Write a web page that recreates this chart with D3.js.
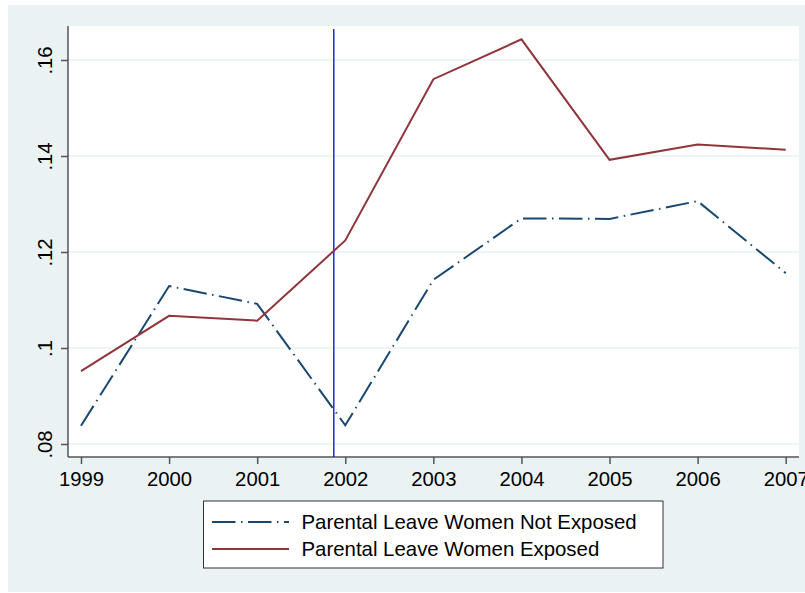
<!DOCTYPE html>
<html>
<head>
<meta charset="utf-8">
<script src="https://cdn.jsdelivr.net/npm/d3@7"></script>
<style>
  body { margin: 0; background: #fff; }
  text { font-family: "Liberation Sans", Arial, Helvetica, sans-serif; }
</style>
</head>
<body>
<div id="chart"></div>
<script>
// data
const years = [1999, 2000, 2001, 2002, 2003, 2004, 2005, 2006, 2007];
const notExposed = [0.0838, 0.1129, 0.1092, 0.0839, 0.1142, 0.1270, 0.1269, 0.1306, 0.1156];
const exposed = [0.0952, 0.1067, 0.1057, 0.1224, 0.1560, 0.1643, 0.1392, 0.1424, 0.1413];
const yTicks = [0.08, 0.10, 0.12, 0.14, 0.16];
const yTickLabels = [".08", ".1", ".12", ".14", ".16"];
const seriesNames = ["Parental Leave Women Not Exposed", "Parental Leave Women Exposed"];
const reformYear = 2001.87;

const navy = "#1a476f", maroon = "#90353b";
const dashDot = "23.5,5.5,1.5,5.5";

let svgWidth = 805, svgHeight = 593;
let plot = {left: 68, right: 799, top: 26, bottom: 457};

let svg = d3.select("#chart").append("svg")
    .attr("width", svgWidth)
    .attr("height", svgHeight);

// outer stata-ish background
svg.append("rect")
    .attr("x", 8).attr("y", 5)
    .attr("width", svgWidth - 8).attr("height", 587)
    .attr("fill", "#eaf2f3");

svg.append("rect")
    .attr("x", plot.left).attr("y", plot.top)
    .attr("width", plot.right - plot.left).attr("height", plot.bottom - plot.top)
    .attr("fill", "#fff");

let x = d3.scaleLinear().domain([1999, 2007]).range([81, 785.7]);
let y = d3.scaleLinear().domain([0.08, 0.16]).range([444, 60]);

// gridlines
svg.append("g")
    .selectAll("line")
    .data(yTicks)
    .enter()
    .append("line")
    .attr("x1", plot.left).attr("x2", plot.right)
    .attr("y1", d => y(d)).attr("y2", d => y(d))
    .attr("stroke", "#eaf2f3")
    .attr("stroke-width", 1.5);

// y axis
let yAxis = d3.axisLeft(y)
    .tickValues(yTicks)
    .tickFormat((d, i) => yTickLabels[i])
    .tickSize(7)
    .tickPadding(9);

svg.append("g")
    .attr("transform", "translate(" + plot.left + ",0)")
    .call(yAxis)
    .call(g => g.select(".domain").attr("d", "M0," + plot.top + "V" + plot.bottom))
    .call(g => g.selectAll("line, .domain").attr("stroke", "#555").attr("stroke-width", 1.5))
    .call(g => g.selectAll("text")
        .attr("font-size", 20.3)
        .attr("fill", "#000")
        .attr("text-anchor", "middle")
        .attr("dy", 0)
        .attr("x", 0)
        .attr("transform", "translate(-16,0) rotate(-90)"));

// x axis
let xAxis = d3.axisBottom(x)
    .tickValues(years)
    .tickFormat(d3.format("d"))
    .tickSize(7)
    .tickPadding(8);

svg.append("g")
    .attr("transform", "translate(0," + plot.bottom + ")")
    .call(xAxis)
    .call(g => g.select(".domain").attr("d", "M" + plot.left + ",0H" + plot.right))
    .call(g => g.selectAll("line, .domain").attr("stroke", "#555").attr("stroke-width", 1.5))
    .call(g => g.selectAll("text").attr("font-size", 20.3).attr("fill", "#000"));

// reform line
svg.append("line")
    .attr("x1", x(reformYear)).attr("x2", x(reformYear))
    .attr("y1", 29).attr("y2", plot.bottom)
    .attr("stroke", "#0000ff")
    .attr("stroke-width", 1.3);

let line = d3.line()
    .x((d, i) => x(years[i]))
    .y(d => y(d));

svg.append("path")
    .datum(notExposed)
    .attr("d", line)
    .attr("fill", "none")
    .attr("stroke", navy)
    .attr("stroke-width", 2)
    .attr("stroke-dasharray", dashDot);

svg.append("path")
    .datum(exposed)
    .attr("d", line)
    .attr("fill", "none")
    .attr("stroke", maroon)
    .attr("stroke-width", 2);

// legend
let legend = svg.append("g");
legend.append("rect")
    .attr("x", 203.5).attr("y", 501)
    .attr("width", 459.5).attr("height", 67)
    .attr("fill", "#fff")
    .attr("stroke", "#333")
    .attr("stroke-width", 1);

let legendStyles = [
    {color: navy, dash: dashDot, y: 522},
    {color: maroon, dash: null, y: 549}
];

let items = legend.selectAll(".item")
    .data(seriesNames)
    .enter()
    .append("g");

items.append("line")
    .attr("x1", 212).attr("x2", 289)
    .attr("y1", (d, i) => legendStyles[i].y)
    .attr("y2", (d, i) => legendStyles[i].y)
    .attr("stroke", (d, i) => legendStyles[i].color)
    .attr("stroke-width", 2)
    .attr("stroke-dasharray", (d, i) => legendStyles[i].dash);

items.append("text")
    .text(d => d)
    .attr("x", 301.5)
    .attr("y", (d, i) => legendStyles[i].y + 6.5)
    .attr("font-size", 20.4)
    .attr("fill", "#000");
</script>
</body>
</html>
